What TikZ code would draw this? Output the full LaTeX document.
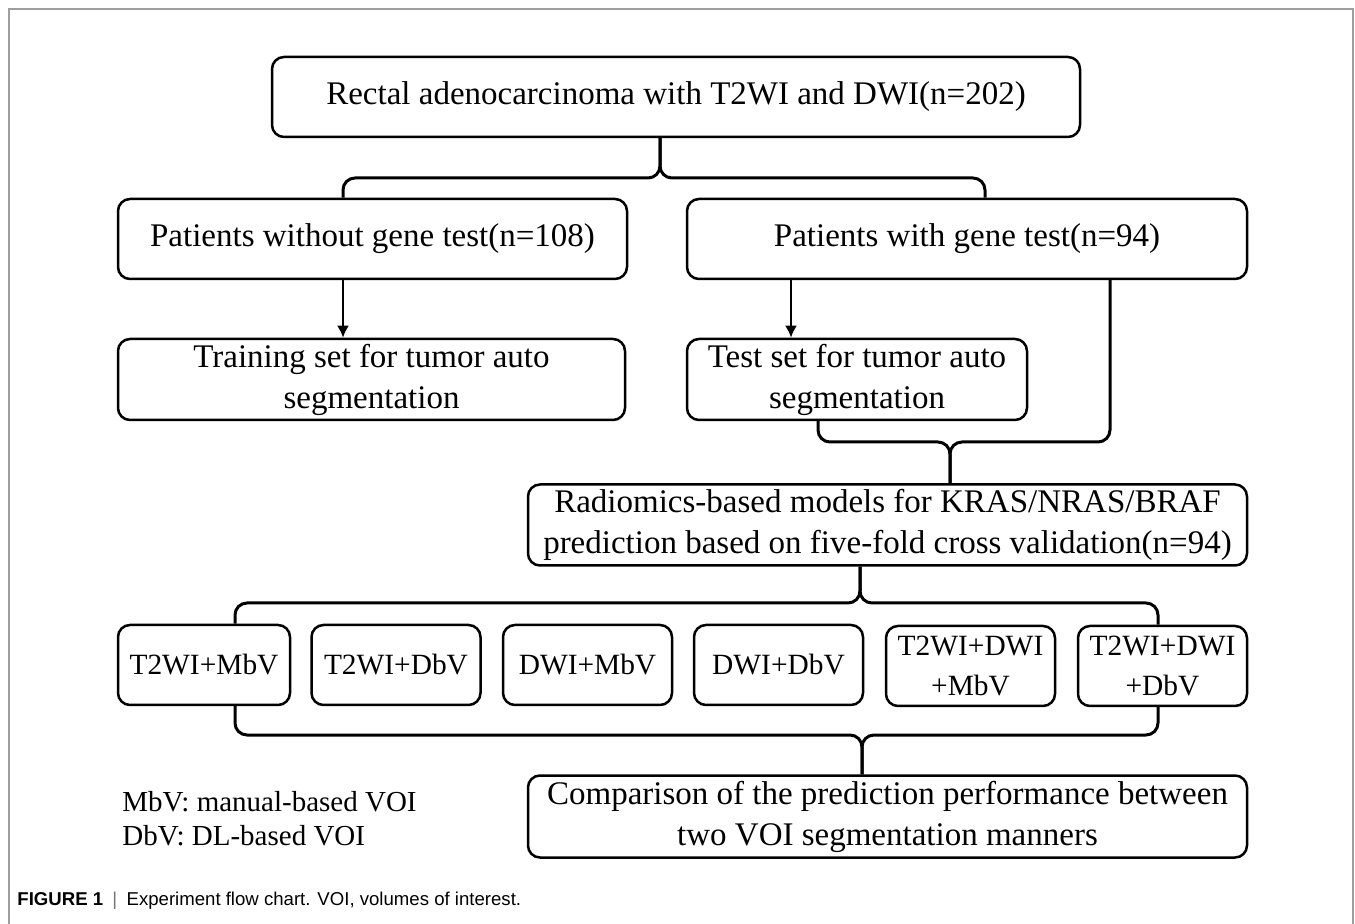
\documentclass[tikz,border=0pt]{standalone}
\usepackage{fontspec}
\setmainfont{Liberation Serif}
\newfontfamily\capfont{Liberation Sans}
\usetikzlibrary{arrows.meta,positioning}

\tikzset{
  box/.style={draw, rounded corners=6pt, line width=1.25pt, align=center, inner sep=2pt,
    font=\fontsize{16.5}{20.5}\selectfont},
  combo/.style={box, minimum width=84.5pt, minimum height=40pt,
    font=\fontsize{14.7}{20}\selectfont},
  brace/.style={line width=1.5pt, rounded corners=6pt},
  arr/.style={line width=1.25pt, -{Latex[length=6pt,width=6pt]}},
  keytext/.style={anchor=base west, inner sep=0pt, font=\fontsize{14.5}{17}\selectfont}
}

\begin{document}
\begin{tikzpicture}[x=0.5pt, y=-0.5pt]
  \useasboundingbox (0,0) rectangle (1355,924);
  % frame
  \draw[line width=0.6pt, black!38] (9,924) |- (1353,9) -- (1353,924);

  % columns and brace junctions
  \coordinate (c1) at (343,0);
  \coordinate (c2) at (985,0);
  \coordinate (c3) at (818,0);
  \coordinate (c4) at (1110,0);
  \coordinate (c5) at (235,0);
  \coordinate (c6) at (1158,0);
  \coordinate (c7) at (791,0);
  \coordinate (tip1) at (660,178);
  \coordinate (tip2) at (950,442);
  \coordinate (tip3) at (860,603);
  \coordinate (tip4) at (862,735);

  % boxes
  \node (cohort) [box, minimum width=404pt, minimum height=40pt] at (676,97) {Rectal adenocarcinoma with T2WI and DWI(n=202)};
  \node (nogene) [box, minimum width=254.5pt, minimum height=40pt] at (372.5,239) {Patients without gene test(n=108)};
  \node (gene) [box, minimum width=280pt, minimum height=40pt] at (967,239) {Patients with gene test(n=94)};
  \node (train) [box, minimum width=253.5pt, minimum height=40.5pt] at (371.5,379.5) {Training set for tumor auto\\segmentation};
  \node (test) [box, minimum width=170pt, minimum height=40.5pt] at (857,379.5) {Test set for tumor auto\\segmentation};
  \node (radio) [box, minimum width=359.5pt, minimum height=40.5pt] at (887.5,525) {Radiomics-based models for KRAS/NRAS/BRAF\\prediction based on five-fold cross validation(n=94)};

  % model combinations
  \node (m1) [combo, minimum width=86pt] at (204,665) {T2WI+MbV};
  \node (m2) [combo] at (396,665) {T2WI+DbV};
  \node (m3) [combo] at (587.5,665) {DWI+MbV};
  \node (m4) [combo] at (778.5,665) {DWI+DbV};
  \node (m5) [combo] at (970.5,666) {T2WI+DWI\\+MbV};
  \node (m6) [combo] at (1162.5,666) {T2WI+DWI\\+DbV};

  \node (cmp) [box, minimum width=359.5pt, minimum height=41pt] at (887.5,816.5) {Comparison of the prediction performance between\\two VOI segmentation manners};

  % arrows
  \draw[arr] (nogene.south -| c1) -- (train.north -| c1);
  \draw[arr] (gene.south -| c7) -- (test.north -| c7);

  % braces
  \draw[brace] (cohort.south -| tip1) -- (tip1) -| (nogene.north -| c1);
  \draw[brace] (cohort.south -| tip1) -- (tip1) -| (gene.north -| c2);
  \draw[brace] (radio.north -| tip2) -- (tip2) -| (test.south -| c3);
  \draw[brace] (radio.north -| tip2) -- (tip2) -| (gene.south -| c4);
  \draw[brace] (radio.south -| tip3) -- (tip3) -| (m1.north -| c5);
  \draw[brace] (radio.south -| tip3) -- (tip3) -| (m6.north -| c6);
  \draw[brace] (cmp.north -| tip4) -- (tip4) -| (m1.south -| c5);
  \draw[brace] (cmp.north -| tip4) -- (tip4) -| (m6.south -| c6);

  % legend
  \node (key1) [keytext] at (122,811) {MbV: manual-based VOI};
  \node (key2) [keytext] at (122,845) {DbV: DL-based VOI};

  % caption
  \node (caption) [anchor=base west, inner sep=0pt, font=\capfont\fontsize{9.3}{11}\selectfont] at (17,905)
    {\textbf{FIGURE 1}\enspace{\color{black!55}|}\enspace Experiment flow chart. VOI, volumes of interest.};
\end{tikzpicture}
\end{document}
